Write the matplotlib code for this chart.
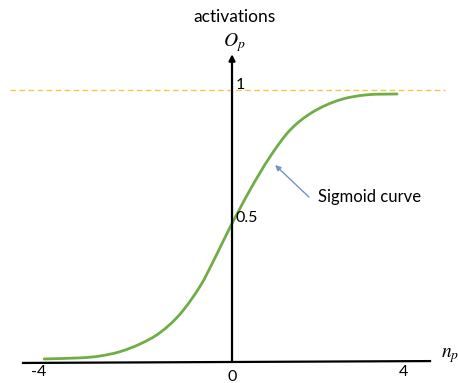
import matplotlib.pyplot as plt
from matplotlib.path import Path
from matplotlib.patches import PathPatch

# points (net input n_p, activation O_p)
net_input = [-4.27, -3.45, -3.00, -2.55, -2.09, -1.64, -1.18, -0.73, -0.40,
             -0.05, 0.41, 0.86, 1.32, 1.84, 2.45, 3.07, 3.75]
activation = [0.004, 0.008, 0.015, 0.031, 0.060, 0.102, 0.172, 0.275, 0.378,
              0.495, 0.637, 0.760, 0.861, 0.929, 0.974, 0.993, 0.996]

x_ticks = [-4.4, 0.0, 3.9]
x_tick_labels = ["-4", "0", "4"]
y_marks = [1.0, 0.5]
y_mark_labels = ["1", "0.5"]

plt.rcParams['font.family'] = ['Lato', 'DejaVu Sans']
plt.rcParams['mathtext.fontset'] = 'stix'


def smooth_path(xs, ys):
    # Catmull-Rom through the read points, drawn as cubic Bezier segments
    pts = list(zip(xs, ys))
    verts = [pts[0]]
    codes = [Path.MOVETO]
    for i in range(len(pts) - 1):
        p0 = pts[max(i - 1, 0)]
        p1 = pts[i]
        p2 = pts[i + 1]
        p3 = pts[min(i + 2, len(pts) - 1)]
        c1 = (p1[0] + (p2[0] - p0[0]) / 6, p1[1] + (p2[1] - p0[1]) / 6)
        c2 = (p2[0] - (p3[0] - p1[0]) / 6, p2[1] - (p3[1] - p1[1]) / 6)
        verts += [c1, c2, p2]
        codes += [Path.CURVE4] * 3
    return Path(verts, codes)


fig = plt.figure(figsize=(4.58, 3.83), dpi=100)
ax = fig.add_axes([0, 0, 1, 1])
ax.set_xlim(-5.273, 5.136)
ax.set_ylim(-0.0861, 1.348)
ax.axis("off")

# saturation level
ax.plot([-5.05, 4.85], [1.01, 1.01], color="#f0c84a", lw=1, ls=(0, (4, 2.5)))

# axes
ax.plot([-4.75, 4.5], [-0.011, -0.004], color="black", lw=1.6)
ax.annotate("", xy=(0, 1.145), xytext=(0, -0.005),
            arrowprops=dict(arrowstyle="-|>", color="black", lw=1.6,
                            mutation_scale=9, shrinkA=0, shrinkB=0))

ax.add_patch(PathPatch(smooth_path(net_input, activation), fill=False,
                       edgecolor="#70ad47", lw=2, capstyle="round"))

for xv, lab in zip(x_ticks, x_tick_labels):
    yv = -0.045 if lab != "0" else -0.062
    ax.text(xv, yv, lab, ha="center", va="center", fontsize=11.5)
for yv, lab in zip(y_marks, y_mark_labels):
    ax.text(0.08, yv + 0.03, lab, ha="left", va="center", fontsize=11.5)

ax.text(0.05, 1.285, "activations", ha="center", va="center", fontsize=12.5)
ax.text(0.05, 1.19, r"$O_p$", ha="center", va="center", fontsize=14)
ax.text(4.75, 0.015, r"$n_p$", ha="left", va="center", fontsize=14)

ax.annotate("", xy=(0.98, 0.73), xytext=(1.75, 0.61),
            arrowprops=dict(arrowstyle="-|>", color="#7393c8", lw=1,
                            mutation_scale=8, shrinkA=0, shrinkB=0))
ax.text(1.95, 0.612, "Sigmoid curve", ha="left", va="center", fontsize=12)

fig.savefig("out.png", dpi=100)
